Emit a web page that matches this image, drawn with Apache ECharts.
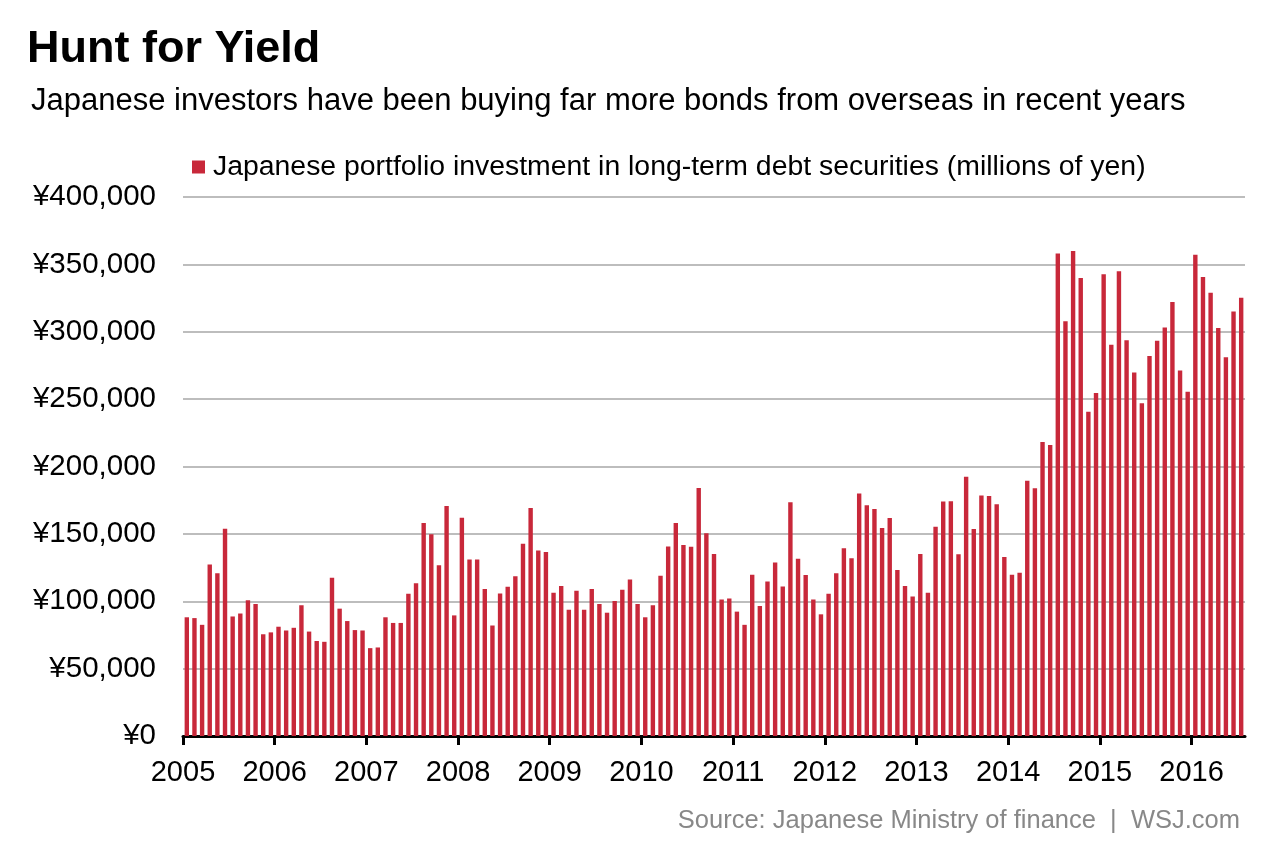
<!DOCTYPE html>
<html>
<head>
<meta charset="utf-8">
<script src="https://cdn.jsdelivr.net/npm/echarts@6/dist/echarts.min.js"></script>
<style>html,body{margin:0;padding:0;background:#fff;}#main{width:1280px;height:853px;}</style>
</head>
<body>
<div id="main"></div>
<script>
// Monthly values, Jan 2005 – Jul 2016 (millions of yen)
const v2005 = [88100, 87500, 82500, 127300, 120800, 153800, 88700, 90900, 100700, 97900, 75500, 76900];
const v2006 = [81100, 78300, 80300, 97100, 77500, 70500, 69900, 117500, 94500, 85300, 78600, 78300];
const v2007 = [65200, 65700, 88100, 83900, 83900, 105500, 113300, 158000, 149700, 126700, 170600, 89500];
const v2008 = [162000, 130900, 130900, 109100, 82000, 105700, 110800, 118600, 142700, 169200, 137600, 136500];
const v2009 = [106300, 111300, 93700, 107700, 93700, 109100, 97900, 91500, 100100, 108500, 116100, 97900];
const v2010 = [88100, 97100, 118900, 140700, 158000, 141800, 140400, 184100, 150500, 135100, 101300, 102100];
const v2011 = [92300, 82500, 119700, 96500, 114700, 128700, 111000, 173400, 131500, 119400, 101300, 90300];
const v2012 = [105500, 120800, 139300, 132000, 179900, 171200, 168400, 154400, 161700, 123100, 111300, 103500];
const v2013 = [135100, 106300, 155200, 174000, 174300, 134800, 192400, 153600, 178500, 178200, 172000, 132900];
const v2014 = [119700, 121100, 189400, 183800, 218200, 215900, 358000, 307700, 360000, 339900, 240600, 254500];
const v2015 = [342700, 290300, 344900, 293700, 269700, 247000, 282000, 293400, 303200, 322000, 271300, 255400];
const v2016 = [357200, 340700, 328900, 302700, 281100, 315000, 325300];

const years = ['2005', '2006', '2007', '2008', '2009', '2010', '2011', '2012', '2013', '2014', '2015', '2016'];
const yearValues = [v2005, v2006, v2007, v2008, v2009, v2010, v2011, v2012, v2013, v2014, v2015, v2016];
const yTicks = [0, 50000, 100000, 150000, 200000, 250000, 300000, 350000, 400000];

const seriesName = 'Japanese portfolio investment in long-term debt securities (millions of yen)';

// x axis counts months from Jan 2005; each bar sits in the middle of its month
const barData = [];
const yearStartIdx = [];
let m = 0;
yearValues.forEach((arr) => {
  yearStartIdx.push(m);
  arr.forEach((v) => { barData.push([m + 0.5, v]); m++; });
});
const monthCount = m;

const FONT = '"Liberation Sans", Arial, Helvetica, sans-serif';
const chart = echarts.init(document.getElementById('main'), null, {renderer: 'canvas'});
chart.setOption({
  animation: false,
  backgroundColor: '#ffffff',
  title: [
    {text: 'Hunt for Yield', left: 22, top: 22,
     textStyle: {fontFamily: FONT, fontSize: 45, fontWeight: 'bold', color: '#000'}},
    {text: 'Japanese investors have been buying far more bonds from overseas in recent years', left: 26, top: 81,
     textStyle: {fontFamily: FONT, fontSize: 31, fontWeight: 'normal', color: '#000'}},
    {text: 'Source: Japanese Ministry of finance  |  WSJ.com', right: 35, top: 803,
     textStyle: {fontFamily: FONT, fontSize: 25.5, fontWeight: 'normal', color: '#888'}}
  ],
  legend: {
    data: [seriesName], left: 187, top: 148,
    icon: 'rect', itemWidth: 13, itemHeight: 13, itemGap: 6,
    textStyle: {fontFamily: FONT, fontSize: 28.4, color: '#000', padding: [0, 0, 0, 3]}
  },
  grid: {left: 183, right: 35, top: 197, bottom: 117, containLabel: false},
  xAxis: {
    type: 'value', min: 0, max: monthCount,
    axisLine: {lineStyle: {color: '#000', width: 3}},
    axisTick: {show: true, length: 9, lineStyle: {color: '#000', width: 3},
      customValues: yearStartIdx},
    axisLabel: {
      customValues: yearStartIdx,
      formatter: (val) => years[yearStartIdx.indexOf(val)] || '',
      fontFamily: FONT, fontSize: 29, color: '#000', margin: 22
    },
    splitLine: {show: false}
  },
  yAxis: {
    type: 'value', min: yTicks[0], max: yTicks[yTicks.length - 1], interval: 50000,
    axisLine: {show: false}, axisTick: {show: false},
    axisLabel: {fontFamily: FONT, fontSize: 29.5, color: '#000', margin: 27,
      formatter: (v) => '¥' + v.toLocaleString('en-US')},
    splitLine: {lineStyle: {color: '#bdbdbd', width: 2}}
  },
  series: [{
    name: seriesName, type: 'bar', data: barData, barWidth: 4.4,
    itemStyle: {color: '#c8283a'}
  }]
});
</script>
</body>
</html>
